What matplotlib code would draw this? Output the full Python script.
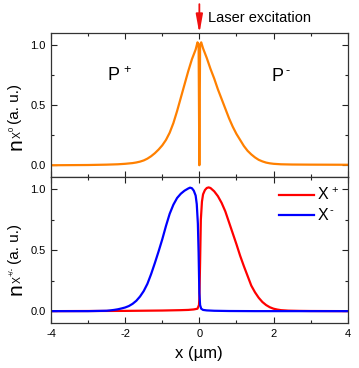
import matplotlib
matplotlib.use("Agg")
import matplotlib.pyplot as plt
from matplotlib.ticker import MultipleLocator

plt.rcParams['font.family'] = ['Liberation Sans', 'DejaVu Sans']
plt.rcParams['mathtext.fontset'] = 'custom'
plt.rcParams['mathtext.rm'] = 'Liberation Sans'
plt.rcParams['axes.unicode_minus'] = False

# neutral exciton density (top panel)
x_x0 = [-4, -3, -2.5, -2.2, -2.0, -1.9, -1.8, -1.7, -1.6, -1.5, -1.4, -1.3,
        -1.2, -1.1, -1.0, -0.9, -0.8, -0.7, -0.6, -0.5, -0.4, -0.3, -0.2, -0.1,
        -0.05, -0.02, 0.0, 0.02, 0.05, 0.1, 0.2, 0.3, 0.4, 0.5, 0.6, 0.7,
        0.8, 0.9, 1.0, 1.1, 1.2, 1.3, 1.4, 1.5, 1.6, 1.7, 1.8, 1.9,
        2.0, 2.2, 2.5, 3, 4]
n_x0 = [0.0, 0.002, 0.005, 0.008, 0.012, 0.015, 0.018, 0.023, 0.03, 0.04, 0.055, 0.075,
        0.10, 0.13, 0.165, 0.21, 0.27, 0.35, 0.45, 0.56, 0.67, 0.78, 0.88, 0.96,
        1.02, 1.0, 0.0, 1.0, 1.02, 0.97, 0.89, 0.80, 0.72, 0.63, 0.55, 0.47,
        0.39, 0.32, 0.26, 0.21, 0.16, 0.12, 0.09, 0.065, 0.045, 0.032, 0.022, 0.016,
        0.012, 0.008, 0.006, 0.005, 0.004]

# charged excitons (bottom panel)
x_plus = [-4, -2, -1, -0.5, -0.3, -0.15, -0.05, -0.01, 0.0, 0.02, 0.04, 0.07,
          0.1, 0.15, 0.2, 0.25, 0.3, 0.4, 0.5, 0.6, 0.7, 0.8, 0.9, 1.0,
          1.1, 1.2, 1.3, 1.4, 1.5, 1.6, 1.7, 1.8, 1.9, 2.0, 2.1, 2.2,
          2.4, 2.7, 3, 4]
n_plus = [0.0, 0.002, 0.005, 0.008, 0.01, 0.014, 0.02, 0.05, 0.1, 0.4, 0.75, 0.9,
          0.96, 0.995, 1.012, 1.017, 1.012, 0.985, 0.945, 0.89, 0.82, 0.73, 0.64, 0.55,
          0.455, 0.37, 0.29, 0.21, 0.155, 0.11, 0.075, 0.05, 0.032, 0.02, 0.013, 0.008,
          0.004, 0.002, 0.001, 0.0]

x_minus = [-4, -3, -2.5, -2.4, -2.3, -2.2, -2.1, -2.0, -1.9, -1.8, -1.7, -1.6,
           -1.5, -1.4, -1.3, -1.2, -1.1, -1.0, -0.9, -0.8, -0.7, -0.6, -0.5, -0.4,
           -0.3, -0.25, -0.2, -0.15, -0.1, -0.07, -0.04, -0.02, 0.0, 0.02, 0.05, 0.1,
           0.2, 0.4, 0.8, 1.5, 4]
n_minus = [0.0, 0.0, 0.003, 0.006, 0.01, 0.015, 0.022, 0.03, 0.042, 0.06, 0.085, 0.12,
           0.165, 0.225, 0.305, 0.395, 0.49, 0.59, 0.70, 0.80, 0.875, 0.93, 0.965, 0.99,
           1.008, 1.015, 1.01, 0.99, 0.95, 0.88, 0.72, 0.48, 0.15, 0.05, 0.02, 0.01,
           0.006, 0.003, 0.001, 0.0, 0.0]

W, H = 359, 368
fig = plt.figure(figsize=(W / 100, H / 100), dpi=100)

def px(x, y):
    return x / W, 1 - y / H

l, r = 51, 347.7
ax1 = fig.add_axes([l / W, 1 - 177.3 / H, (r - l) / W, 144.6 / H])
ax2 = fig.add_axes([l / W, 1 - 323.3 / H, (r - l) / W, 146 / H])

ax1.plot(x_x0, n_x0, color='#ff8000', lw=1.6)
ax2.plot(x_plus, n_plus, color='#ff0000', lw=1.6, label='X$^{\\mathregular{\\,+}}$')
ax2.plot(x_minus, n_minus, color='#0000ff', lw=1.6, label='X$^{\\,\\text{-}}$')

for ax in (ax1, ax2):
    ax.set_xlim(-4, 4)
    ax.set_ylim(-0.1, 1.1)
    ax.xaxis.set_major_locator(MultipleLocator(2))
    ax.xaxis.set_minor_locator(MultipleLocator(1))
    ax.yaxis.set_major_locator(MultipleLocator(0.5))
    ax.yaxis.set_minor_locator(MultipleLocator(0.25))
    ax.tick_params(which='both', direction='in', top=True, right=True,
                   labelsize=8, color='#222222', width=0.8, pad=4)
    ax.tick_params(which='major', length=4.5)
    ax.tick_params(which='minor', length=2.5)
    for s in ax.spines.values():
        s.set_color('#333333')
        s.set_linewidth(0.9)
    ax.yaxis.set_major_formatter(plt.FormatStrFormatter('%.1f'))

ax1.tick_params(labelbottom=False)
ax2.set_xlabel('x (µm)', fontsize=12, labelpad=5)

ax1.text(-2.5, 0.74, 'P$^{\\mathregular{\\,+}}$', fontsize=13, ha='left', va='center')
ax1.text(1.92, 0.74, 'P$^{\\,\\text{-}}$', fontsize=13, ha='left', va='center')

ax1.annotate('', xy=(0, 1.07), xytext=(0, 1.36),
             arrowprops=dict(arrowstyle='-|>,head_length=0.55,head_width=0.1',
                             color='#f01010', lw=1.3, mutation_scale=20),
             annotation_clip=False)
fig.text(*px(208, 18.5), 'Laser excitation', fontsize=10.5, ha='left', va='center')

ax2.legend(loc='upper left', bbox_to_anchor=(0.768, 0.935), frameon=False, fontsize=11.5,
           handlelength=2.2, handletextpad=0.2, borderpad=0, borderaxespad=0,
           labelspacing=0.25)

# y labels built from pieces so the "n" is larger than the rest
renderer = fig.canvas.get_renderer()

def vlabel(start_y, pieces):
    y = start_y
    for txt, size, base_x, gap in pieces:
        t = fig.text(*px(base_x, y), txt, fontsize=size, rotation=90,
                     rotation_mode='anchor', ha='left', va='baseline')
        bb = t.get_window_extent(renderer)
        y = y - bb.height - gap

vlabel(150, [('n', 15, 21.5, 0.5), ('X', 7.5, 21, 0), ('0', 5.5, 14, 3),
             ('(a. u.)', 11, 19.5, 0)])
vlabel(295, [('n', 15, 21.5, 0.5), ('X', 7.5, 21, 0), ('+/-', 5.5, 14, 3),
             ('(a. u.)', 11, 19.5, 0)])

fig.savefig('out.png', dpi=100)
